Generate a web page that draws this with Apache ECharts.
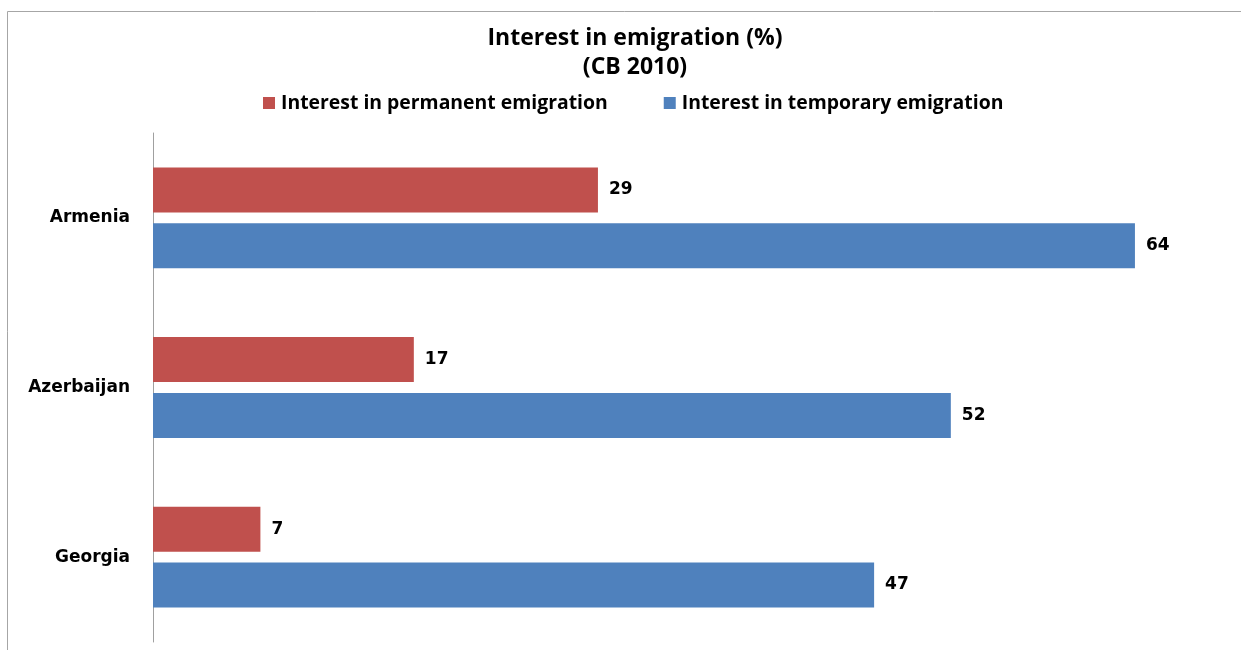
<!DOCTYPE html>
<html>
<head>
<meta charset="utf-8">
<script src="https://cdn.jsdelivr.net/npm/echarts@6/dist/echarts.min.js"></script>
<style>
  html, body { margin: 0; padding: 0; background: #ffffff; }
  #chart { width: 1241px; height: 650px; }
</style>
</head>
<body>
<div id="chart"></div>
<script>
// Survey results: share of respondents interested in emigrating
const countries = ['Armenia', 'Azerbaijan', 'Georgia'];
const permanentEmigration = [29, 17, 7];
const temporaryEmigration = [64, 52, 47];
const seriesNames = ['Interest in permanent emigration', 'Interest in temporary emigration'];

const chart = echarts.init(document.getElementById('chart'), null, { renderer: 'canvas' });

const valueLabel = {
  show: true,
  position: 'right',
  distance: 11,
  color: '#000000',
  fontFamily: 'DejaVu Sans',
  fontWeight: 'bold',
  fontSize: 17
};

chart.setOption({
  backgroundColor: '#ffffff',
  animation: false,
  title: {
    text: 'Interest in emigration (%)\n(CB 2010)',
    left: 630,
    textAlign: 'center',
    top: 19,
    textStyle: {
      fontFamily: 'Open Sans',
      fontWeight: 'bold',
      fontSize: 23,
      lineHeight: 29,
      color: '#000000'
    }
  },
  legend: {
    top: 87,
    left: 258,
    itemWidth: 12,
    itemHeight: 12,
    itemGap: 56,
    icon: 'rect',
    data: seriesNames,
    textStyle: {
      fontFamily: 'Open Sans',
      fontWeight: 'bold',
      fontSize: 19.4,
      lineHeight: 22,
      color: '#000000',
      padding: [0, 0, 0, 1]
    }
  },
  graphic: [{
    type: 'rect',
    silent: true,
    shape: { x: 7.5, y: 11.5, width: 1400, height: 800 },
    style: { fill: 'none', stroke: '#a6a6a6', lineWidth: 1 }
  }],
  grid: {
    left: 153,
    top: 133,
    width: 1074,
    bottom: 8,
    containLabel: false
  },
  xAxis: {
    type: 'value',
    min: 0,
    max: 70,
    axisLine: { show: false },
    axisTick: { show: false },
    axisLabel: { show: false },
    splitLine: { show: false }
  },
  yAxis: {
    type: 'category',
    data: countries,
    inverse: true,
    axisLine: { show: true, lineStyle: { color: '#a0a0a0', width: 1 } },
    axisTick: { show: false },
    axisLabel: {
      margin: 23,
      color: '#000000',
      fontFamily: 'DejaVu Sans',
      fontWeight: 'bold',
      fontSize: 17
    }
  },
  series: [
    {
      name: seriesNames[0],
      type: 'bar',
      data: permanentEmigration,
      barWidth: 45,
      barGap: '24%',
      itemStyle: { color: '#C0504D' },
      label: valueLabel
    },
    {
      name: seriesNames[1],
      type: 'bar',
      data: temporaryEmigration,
      barWidth: 45,
      barGap: '24%',
      itemStyle: { color: '#4F81BD' },
      label: valueLabel
    }
  ]
});
</script>
</body>
</html>
